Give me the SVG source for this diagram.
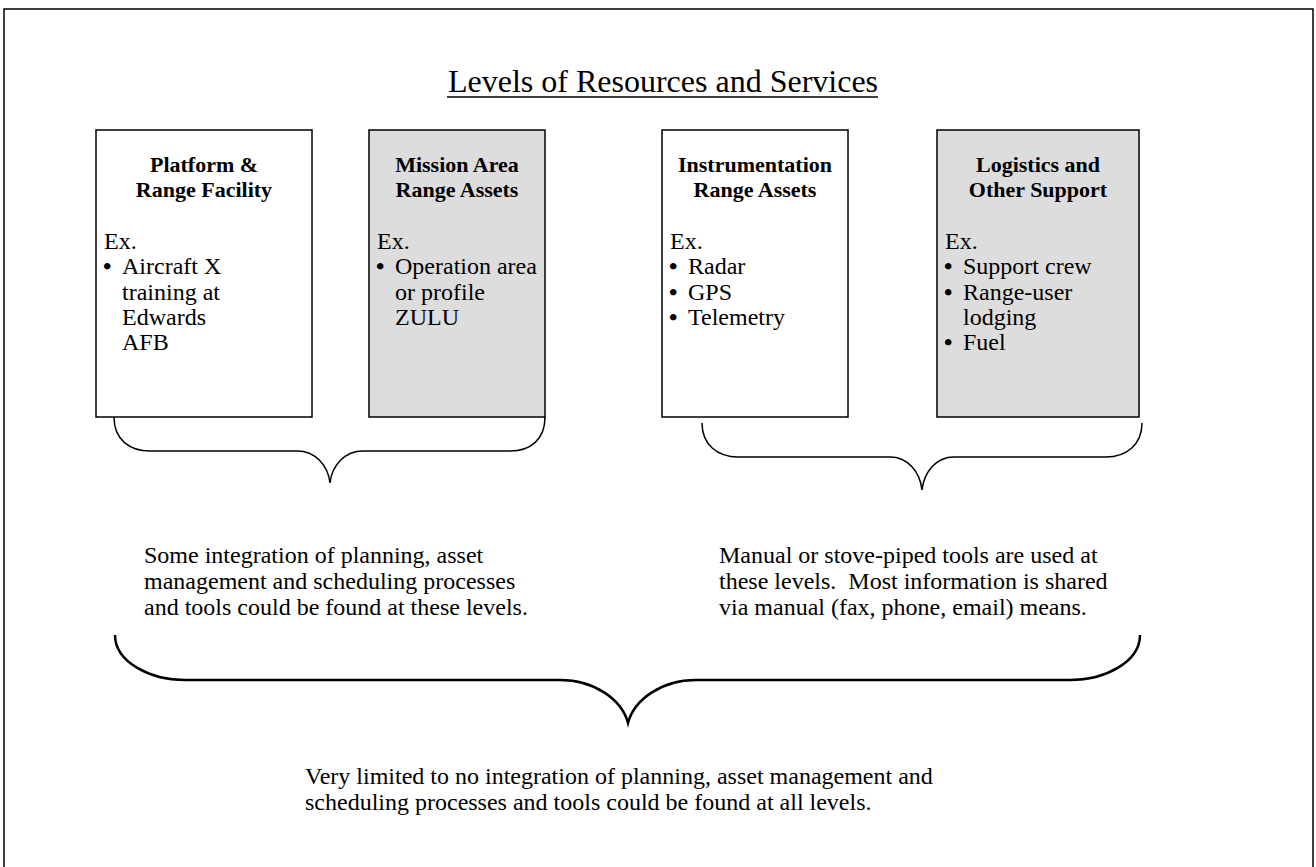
<svg xmlns="http://www.w3.org/2000/svg" width="1316" height="867" viewBox="0 0 1316 867">
<style>
.t{font-family:"Liberation Serif","Times New Roman",serif;font-size:24px;fill:#000}
.b{font-weight:bold}
.h{font-family:"Liberation Serif","Times New Roman",serif;font-size:22px;font-weight:bold;fill:#000;text-anchor:middle}
.box{stroke:#000;stroke-width:1.5}
.w{fill:#fff}
.g{fill:#dddddd}
.br{fill:none;stroke:#000;stroke-width:1.5}
</style>
<rect width="1316" height="867" fill="#fff"/>
<rect x="4" y="9" width="1309" height="900" fill="none" stroke="#000" stroke-width="1.5"/>
<g id="title">
<text x="663" y="92" text-anchor="middle" style="font-family:'Liberation Serif','Times New Roman',serif;font-size:32px">Levels of Resources and Services</text>
<line x1="447" y1="97" x2="878" y2="97" stroke="#000" stroke-width="1.5"/>
</g>
<g id="box1">
<rect class="box w" x="96" y="130" width="216" height="287"/>
<text class="h" x="204" y="172">Platform &amp;</text>
<text class="h" x="204" y="197">Range Facility</text>
<text class="t" x="104" y="249">Ex.</text>
<text class="t" y="274"><tspan class="b" x="103">•</tspan><tspan x="122">Aircraft X</tspan></text>
<text class="t" x="122" y="300">training at</text>
<text class="t" x="122" y="325">Edwards</text>
<text class="t" x="122" y="350">AFB</text>
</g>
<g id="box2">
<rect class="box g" x="369" y="130" width="176" height="287"/>
<text class="h" x="457" y="172">Mission Area</text>
<text class="h" x="457" y="197">Range Assets</text>
<text class="t" x="377" y="249">Ex.</text>
<text class="t" y="274"><tspan class="b" x="376">•</tspan><tspan x="395">Operation area</tspan></text>
<text class="t" x="395" y="300">or profile</text>
<text class="t" x="395" y="325">ZULU</text>
</g>
<g id="box3">
<rect class="box w" x="662" y="130" width="186" height="287"/>
<text class="h" x="755" y="172">Instrumentation</text>
<text class="h" x="755" y="197">Range Assets</text>
<text class="t" x="670" y="249">Ex.</text>
<text class="t" y="274"><tspan class="b" x="669">•</tspan><tspan x="688">Radar</tspan></text>
<text class="t" y="300"><tspan class="b" x="669">•</tspan><tspan x="688">GPS</tspan></text>
<text class="t" y="325"><tspan class="b" x="669">•</tspan><tspan x="688">Telemetry</tspan></text>
</g>
<g id="box4">
<rect class="box g" x="937" y="130" width="202" height="287"/>
<text class="h" x="1038" y="172">Logistics and</text>
<text class="h" x="1038" y="197">Other Support</text>
<text class="t" x="945" y="249">Ex.</text>
<text class="t" y="274"><tspan class="b" x="944">•</tspan><tspan x="963">Support crew</tspan></text>
<text class="t" y="300"><tspan class="b" x="944">•</tspan><tspan x="963">Range-user</tspan></text>
<text class="t" x="963" y="325">lodging</text>
<text class="t" y="350"><tspan class="b" x="944">•</tspan><tspan x="963">Fuel</tspan></text>
</g>
<g id="connectors">
<path class="br" d="M114,417 C114,440 130,451 150,451 L297,451 C315,451 328,465 330,483 C332,465 345,451 363,451 L510,451 C530,451 545,440 545,417"/>
<path class="br" d="M702,423 C702,445 718,457 738,457 L890,457 C908,457 920,472 922,490 C924,472 936,457 954,457 L1106,457 C1126,457 1142,445 1142,423"/>
<path class="br" style="stroke-width:2.5" d="M115,635 C115,662 150,680 185,680 L560,680 C595,680 622,700 628,723 C634,700 661,680 696,680 L1070,680 C1105,680 1140,662 1140,635"/>
</g>
<g id="text-left">
<text class="t" x="144" y="563">Some integration of planning, asset</text>
<text class="t" x="144" y="589">management and scheduling processes</text>
<text class="t" x="144" y="615">and tools could be found at these levels.</text>
</g>
<g id="text-right">
<text class="t" x="719" y="563">Manual or stove-piped tools are used at</text>
<text class="t" x="719" y="589" xml:space="preserve">these levels.  Most information is shared</text>
<text class="t" x="719" y="615">via manual (fax, phone, email) means.</text>
</g>
<g id="text-bottom">
<text class="t" x="305" y="784">Very limited to no integration of planning, asset management and</text>
<text class="t" x="305" y="810">scheduling processes and tools could be found at all levels.</text>
</g>
</svg>
